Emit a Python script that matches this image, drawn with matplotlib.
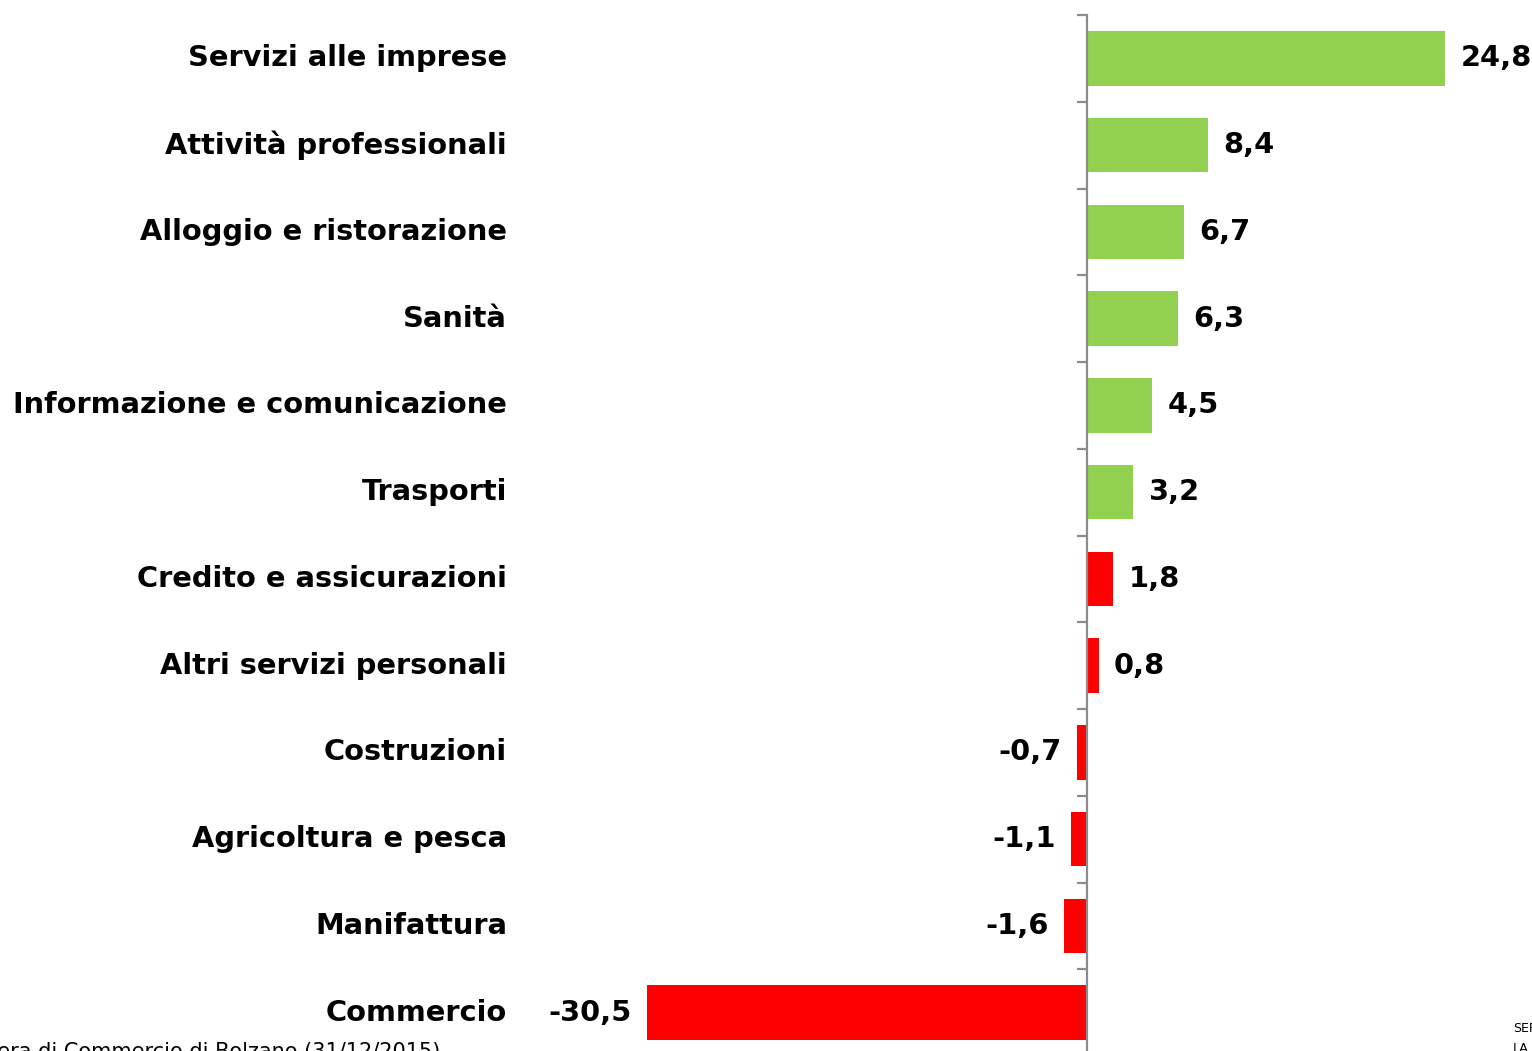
import matplotlib.pyplot as plt
import matplotlib.transforms as mtransforms

# Daten (Variazione, valori)
settori = ['Servizi alle imprese', 'Attività professionali', 'Alloggio e ristorazione',
           'Sanità', 'Informazione e comunicazione', 'Trasporti',
           'Credito e assicurazioni', 'Altri servizi personali', 'Costruzioni',
           'Agricoltura e pesca', 'Manifattura', 'Commercio']
valori = [24.8, 8.4, 6.7, 6.3, 4.5, 3.2, 1.8, 0.8, -0.7, -1.1, -1.6, -30.5]
colori = ['#92D050'] * 6 + ['#FF0000'] * 6

W, H = 1532, 1051
fig = plt.figure(figsize=(W / 100, H / 100), dpi=100)

# Achse: Null bei x=1087px, 14.44 px pro Einheit
x0, s = 1087, 14.44
xmin, xmax = -33, 31
left = (x0 + xmin * s) / W
right = (x0 + xmax * s) / W
top_px, step = 15, 86.75
bot_px = top_px + len(settori) * step
ax = fig.add_axes([left, 1 - bot_px / H, right - left, (bot_px - top_px) / H])

y = list(range(len(settori)))
ax.barh(y, valori, height=0.63, color=colori, zorder=2)
ax.set_xlim(xmin, xmax)
ax.set_ylim(len(settori) - 0.5, -0.5)

for sp in ['top', 'right', 'bottom']:
    ax.spines[sp].set_visible(False)
ax.spines['left'].set_position(('data', 0))
ax.spines['left'].set_color('#8c8c8c')
ax.spines['left'].set_linewidth(1.6)
ax.set_xticks([])
ax.set_yticks([])
ax.set_yticks([i - 0.5 for i in range(len(settori) + 1)], minor=True)
ax.tick_params(axis='y', which='minor', length=7.5, width=1.6, color='#8c8c8c',
               direction='out', labelleft=False)

fnt = dict(family='DejaVu Sans', weight='bold', size=20.8)
trans = mtransforms.blended_transform_factory(fig.transFigure, ax.transData)
for i, name in enumerate(settori):
    ax.text(507 / W, i, name, transform=trans, ha='right', va='center', **fnt)

for i, v in enumerate(valori):
    lab = ('%.1f' % v).replace('.', ',')
    if v >= 0:
        ax.annotate(lab, (v, i), xytext=(11, 0), textcoords='offset points',
                    ha='left', va='center', **fnt)
    else:
        ax.annotate(lab, (v, i), xytext=(-11, 0), textcoords='offset points',
                    ha='right', va='center', **fnt)

# Quelle (unten abgeschnitten, wie im Original)
fig.text(440 / W, 1 - 1042 / H, 'Fonte: Camera di Commercio di Bolzano (31/12/2015)',
         ha='right', va='top', fontsize=15, family='DejaVu Sans')
fig.text(1513 / W, 1 - 1022 / H, 'SERVIZI', ha='left', va='top', fontsize=9,
         family='DejaVu Sans')
fig.text(1513 / W, 1 - 1042 / H, 'LA', ha='left', va='top', fontsize=9,
         family='DejaVu Sans')

fig.savefig('out.png', dpi=100)
